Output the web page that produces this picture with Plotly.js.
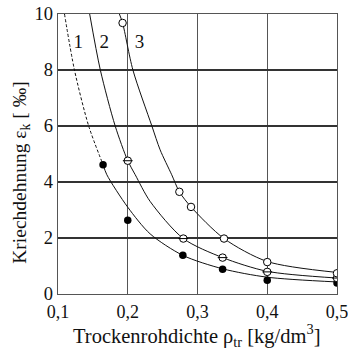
<!DOCTYPE html>
<html><head><meta charset="utf-8">
<script src="https://cdn.plot.ly/plotly-3.0.1.min.js"></script>
<style>html,body{margin:0;padding:0;background:#fff}#c{width:348px;height:350px}</style>
</head><body><div id="c"></div>
<script>
// Measured points
const s1X = [0.1646, 0.2, 0.279, 0.336, 0.4, 0.5];
const s1Y = [4.62, 2.63, 1.38, 0.88, 0.49, 0.39];
const s2X = [0.2, 0.2797, 0.336, 0.4, 0.5];
const s2Y = [4.76, 1.98, 1.30, 0.79, 0.57];
const s3X = [0.1926, 0.274, 0.2907, 0.338, 0.4, 0.5];
const s3Y = [9.68, 3.65, 3.11, 1.98, 1.14, 0.74];
// Fitted curves
const c1dashX = [0.1093, 0.1236, 0.144, 0.1646];
const c1dashY = [10, 8, 6, 4.62];
const c1X = [0.1646, 0.17, 0.2, 0.232, 0.279, 0.336, 0.4, 0.5];
const c1Y = [4.62, 4.26, 3.1, 2.15, 1.38, 0.9, 0.6, 0.43];
const c2X = [0.1454, 0.1607, 0.182, 0.2, 0.2107, 0.232, 0.2797, 0.336, 0.4, 0.5];
const c2Y = [10, 8, 6, 4.76, 4.26, 3.31, 1.98, 1.30, 0.81, 0.57];
const c3X = [0.188, 0.1926, 0.2074, 0.2346, 0.2464, 0.263, 0.274, 0.2907, 0.338, 0.4, 0.5];
const c3Y = [10, 9.68, 8, 6, 5.15, 4.26, 3.65, 3.11, 1.98, 1.16, 0.77];
const labelText = ['1', '2', '3'];
const labelX = [0.1289, 0.1664, 0.2169];
const labelY = [8.95, 8.95, 8.95];
const xTicks = [0.1, 0.2, 0.3, 0.4, 0.5];
const xTickText = ['0,1', '0,2', '0,3', '0,4', '0,5'];
const yTicks = [0, 2, 4, 6, 8, 10];
const xTitle = 'Trockenrohdichte ρ<sub>tr</sub> [kg/dm<sup>3</sup>]';
const yTitle = 'Kriechdehnung ε<sub>k</sub> [ ‰]';

const serif = 'Liberation Serif, Times New Roman, serif';
const lineStyle = {color: '#111', width: 1, shape: 'spline', smoothing: 0.8};
const traces = [
  {x: c1dashX, y: c1dashY, mode: 'lines', line: Object.assign({}, lineStyle, {dash: '3px,2px'})},
  {x: c1X, y: c1Y, mode: 'lines', line: lineStyle},
  {x: c2X, y: c2Y, mode: 'lines', line: lineStyle},
  {x: c3X, y: c3Y, mode: 'lines', line: lineStyle},
  {x: s1X, y: s1Y, mode: 'markers', marker: {symbol: 'circle', size: 7.5, color: '#000'}},
  {x: s2X, y: s2Y, mode: 'markers', marker: {symbol: 'circle', size: 7.5, color: '#fff', line: {color: '#000', width: 1}}},
  {x: s2X, y: s2Y, mode: 'markers', marker: {symbol: 'line-ew-open', size: 7, color: '#000', line: {color: '#000', width: 1}}},
  {x: s3X, y: s3Y, mode: 'markers', marker: {symbol: 'circle', size: 7.5, color: '#fff', line: {color: '#000', width: 1}}},
  {x: labelX, y: labelY, mode: 'text', text: labelText, textfont: {family: serif, size: 19, color: '#111'}}
];
const layout = {
  width: 348, height: 350,
  margin: {l: 57.5, r: 10.5, t: 14.3, b: 55.7},
  showlegend: false,
  paper_bgcolor: '#fff', plot_bgcolor: '#fff',
  font: {family: serif, color: '#111'},
  xaxis: {
    range: [0.1, 0.5], tickvals: xTicks, ticktext: xTickText,
    showgrid: true, gridcolor: '#555', gridwidth: 1.3,
    showline: true, linecolor: '#555', linewidth: 1.3, mirror: true,
    ticks: '', zeroline: false, ticklabeloverflow: 'allow', ticklabelstandoff: 1,
    tickfont: {family: serif, size: 18, color: '#111'}
  },
  yaxis: {
    range: [0, 10], tickvals: yTicks,
    showgrid: true, gridcolor: '#333', gridwidth: 1.3,
    showline: true, linecolor: '#555', linewidth: 1.3, mirror: true,
    ticks: '', zeroline: false, tickfont: {family: serif, size: 18.5, color: '#111'}
  },
  annotations: [
    {text: xTitle, xref: 'paper', yref: 'paper', x: 0.496, y: 0, xanchor: 'center', yanchor: 'middle',
     xshift: 0, yshift: -41, showarrow: false, font: {family: serif, size: 20.5, color: '#111'}},
    {text: yTitle, xref: 'paper', yref: 'paper', x: 0, y: 0.476, xanchor: 'center', yanchor: 'middle',
     xshift: -37, yshift: -12, textangle: -90, showarrow: false, font: {family: serif, size: 19.5, color: '#111'}}
  ]
};
Plotly.newPlot('c', traces, layout, {displayModeBar: false, staticPlot: true});
</script>
</body></html>
